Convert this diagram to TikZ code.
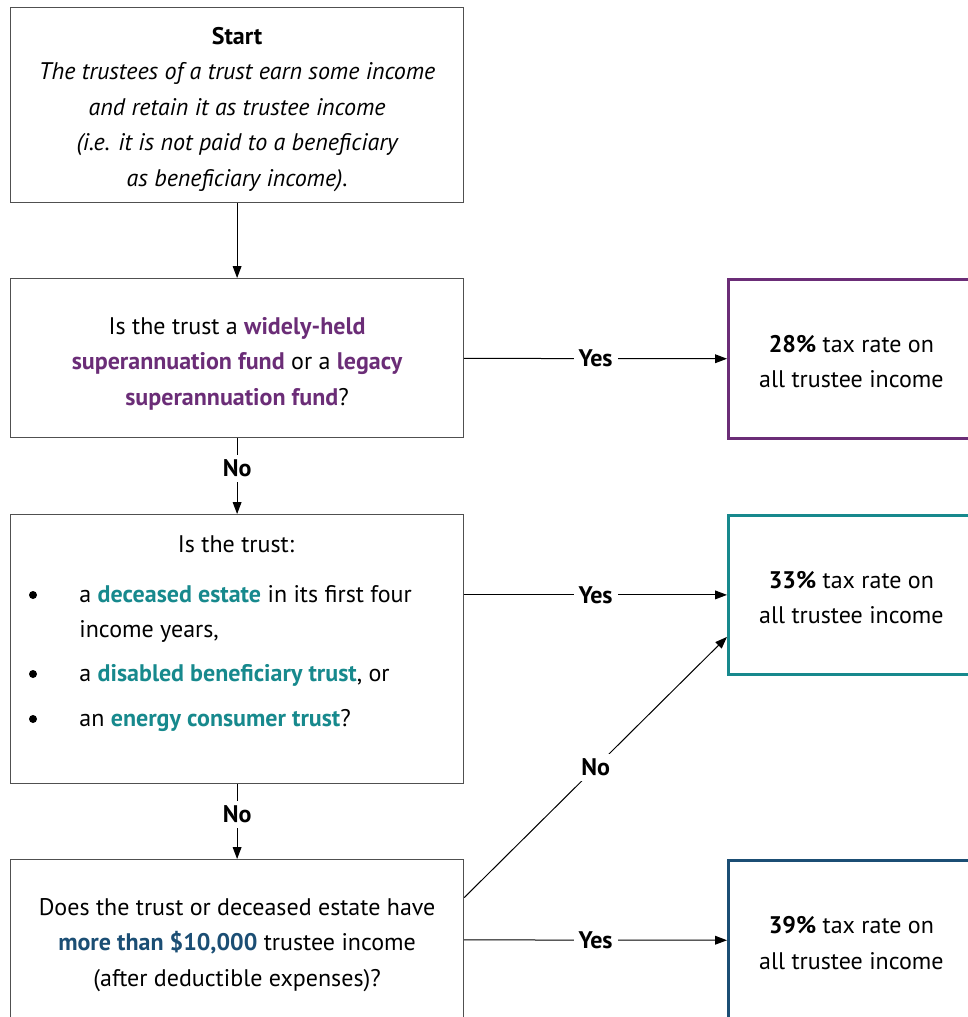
\documentclass[tikz,border=0pt]{standalone}
\usepackage{fontspec}
\setmainfont{PT Sans}
\usetikzlibrary{arrows.meta,calc}
\definecolor{superpurple}{HTML}{6B2D77}
\definecolor{concteal}{HTML}{17898D}
\definecolor{topnavy}{HTML}{1B4E74}
\definecolor{boxgray}{HTML}{505050}
\newcommand{\purp}[1]{\textcolor{superpurple}{\textbf{#1}}}
\newcommand{\teal}[1]{\textcolor{concteal}{\textbf{#1}}}
\newcommand{\navy}[1]{\textcolor{topnavy}{\textbf{#1}}}
\newcommand{\lift}[1]{\rule{0pt}{#1}}
\begin{document}
\begin{tikzpicture}[x=0.5pt,y=-0.5pt,
  body/.style={font=\fontsize{12}{17.75}\selectfont},
  qbox/.style={body,draw=boxgray,line width=0.6pt,minimum width=226.5pt,
    inner sep=0pt,align=center,anchor=north west},
  rbox/.style={body,line width=1.4pt,minimum width=123pt,minimum height=79.5pt,
    inner sep=0pt,align=center,anchor=north west},
  txt/.style={body,inner sep=0pt,anchor=base west},
  dot/.style={circle,fill=black,inner sep=0pt,minimum size=4pt},
  flow/.style={-{Triangle[length=6pt,width=4.4pt]},line width=0.5pt},
  ans/.style={fill=white,font=\bfseries\fontsize{12}{13}\selectfont,inner sep=2.5pt}]
\useasboundingbox (0,0) rectangle (968,1017);
\clip (0,0) rectangle (968,1017);

% question boxes on the left
\node[qbox,minimum height=97.5pt] (start) at (10,7)
  {\lift{13pt}\textbf{Start}\\
   {\itshape The trustees of a trust earn some income}\\
   {\itshape and retain it as trustee income}\\
   {\itshape (i.e. it is not paid to a beneficiary}\\
   {\itshape as beneficiary income).}};

\node[qbox,minimum height=79.5pt] (q2) at (10,278)
  {\lift{14pt}Is the trust a \purp{widely-held}\\
   \purp{superannuation fund} or a \purp{legacy}\\
   \purp{superannuation fund}?};

\node[qbox,minimum height=134.5pt] (q3) at (10,514) {};
\node[body,inner sep=0pt,anchor=base] (q3head) at (236,552) {Is the trust:};
\node[dot] (dot1) at (33,595) {};
\node[dot] (dot2) at (33,674) {};
\node[dot] (dot3) at (33,719) {};
\node[txt] (item1a) at (79,602) {a \teal{deceased estate} in its first four};
\node[txt] (item1b) at (79,637) {income years,};
\node[txt] (item2) at (79,681) {a \teal{disabled beneficiary trust}, or};
\node[txt] (item3) at (79,726) {an \teal{energy consumer trust}?};

\node[qbox,minimum height=80pt] (q4) at (10,859)
  {\lift{14pt}Does the trust or deceased estate have\\
   \navy{more than \$10,000} trustee income\\
   (after deductible expenses)?};

% outcome boxes on the right
\node[rbox,draw=superpurple] (r1) at (727,278) {\lift{11pt}\textbf{28\%} tax rate on\\all trustee income};
\node[rbox,draw=concteal] (r2) at (727,514) {\lift{11pt}\textbf{33\%} tax rate on\\all trustee income};
\node[rbox,draw=topnavy,minimum height=80pt] (r3) at (727,859) {\lift{11pt}\textbf{39\%} tax rate on\\all trustee income};

% connectors
\draw[flow] (start) -- (q2);
\draw[flow] (q2) -- node[ans,pos=0.4] {No} (q3);
\draw[flow] (q3) -- node[ans,pos=0.4] {No} (q4);
\draw[flow] (q2) -- node[ans] {Yes} (r1);
\draw[flow] (q3.east |- r2.west) -- node[ans] {Yes} (r2.west);
\draw[flow] (q4) -- node[ans] {Yes} (r3);
\draw[flow] ([yshift=21pt]q4.east) -- node[ans] {No} ([yshift=-21pt]r2.west);
\end{tikzpicture}
\end{document}
